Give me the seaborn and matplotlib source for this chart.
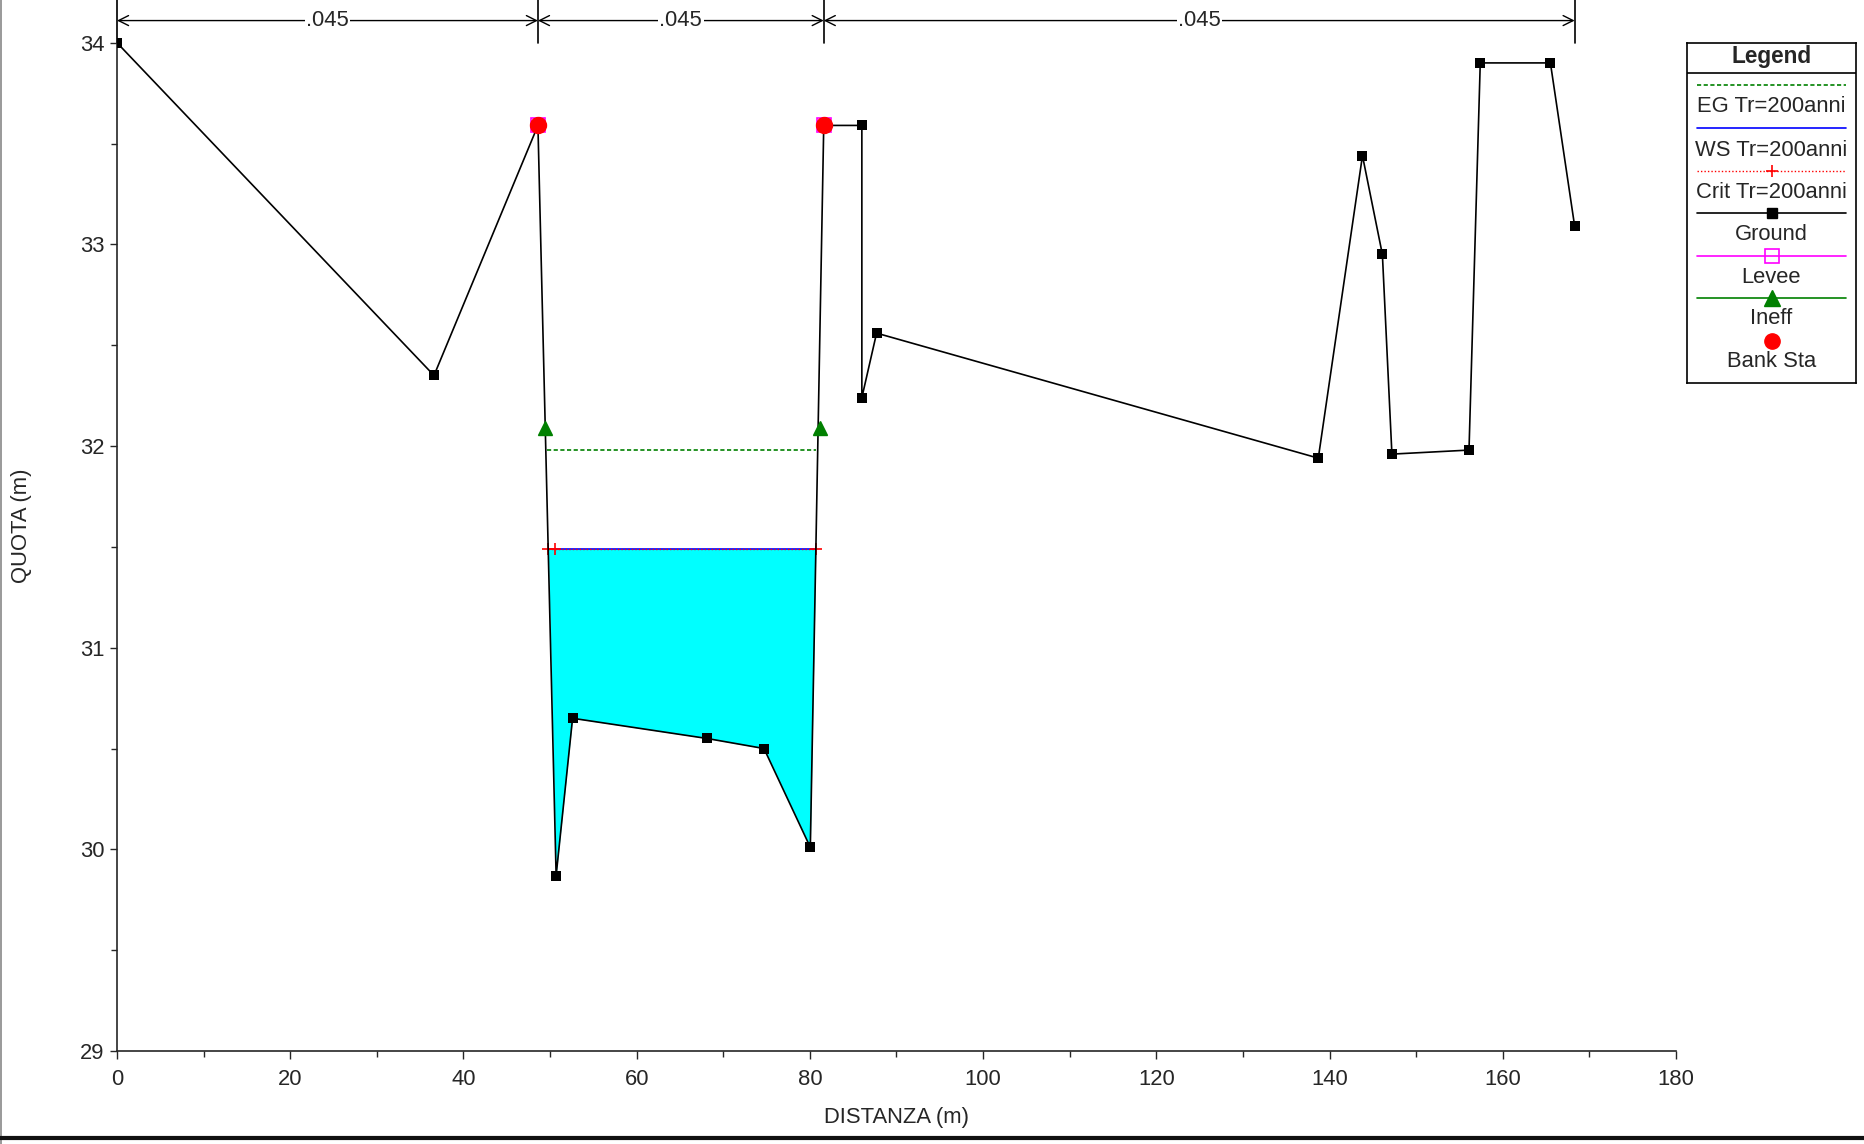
import numpy as np
import matplotlib
matplotlib.use("Agg")
import matplotlib.pyplot as plt
from matplotlib.lines import Line2D
from matplotlib.ticker import MultipleLocator
import seaborn as sns

# ---- dati ----
ground_x = [0.0, 36.6, 48.6, 50.7, 52.6, 68.1, 74.7, 80.05, 81.6, 86.0, 86.0,
            87.7, 138.7, 143.8, 146.1, 147.2, 156.1, 157.4, 165.5, 168.3]
ground_y = [34.00, 32.35, 33.59, 29.87, 30.65, 30.55, 30.50, 30.01, 33.59, 33.59, 32.24,
            32.56, 31.94, 33.44, 32.95, 31.96, 31.98, 33.90, 33.90, 33.09]

bank_x = [48.6, 81.6]
bank_y = [33.59, 33.59]
levee_x = [48.6, 81.6]
levee_y = [33.59, 33.59]
ineff_x = [49.45, 81.15]
ineff_y = [32.09, 32.09]

ws_elev = 31.49
eg_elev = 31.98
eg_x = [49.6, 80.75]
ws_x = [49.8, 80.7]
crit_x = [49.8, 50.55, 80.7]
crit_y = [31.49, 31.49, 31.49]

n_sta = [0.0, 48.6, 81.6, 168.3]
n_val = [".045", ".045", ".045"]

legend_labels = ["EG Tr=200anni", "WS Tr=200anni", "Crit Tr=200anni",
                 "Ground", "Levee", "Ineff", "Bank Sta"]

# ---- stile ----
sns.set_style("ticks")
plt.rcParams["font.family"] = ["Liberation Sans", "DejaVu Sans"]
FS = 15.8
plt.rcParams["font.size"] = FS

W, H = 1865, 1144
fig = plt.figure(figsize=(W / 100, H / 100), dpi=100)
ax = fig.add_axes([117 / W, 1 - 1051 / H, 1559 / W, 1051 / H])

# acqua
ch_x = np.array(ground_x[2:9])
ch_y = np.array(ground_y[2:9])
ax.fill_between(ch_x, ch_y, ws_elev, where=ch_y < ws_elev, interpolate=True,
                color="#00ffff", linewidth=0, zorder=1)

# EG, WS, Crit
ax.plot(eg_x, [eg_elev, eg_elev], color="#008000", ls=(0, (2.5, 1.5)), lw=1.2, zorder=3)
ax.plot(ws_x, [ws_elev, ws_elev], color="blue", lw=1.2, zorder=3)
ax.plot(crit_x, crit_y, color="red", ls=(0, (1, 1.5)), lw=1, marker="+",
        markersize=9, markeredgewidth=1.2, zorder=4)

# terreno
sns.lineplot(x=ground_x, y=ground_y, sort=False, estimator=None, color="black",
             lw=1.2, marker="s", markersize=7, markeredgewidth=0, ax=ax, zorder=5)

# argini, ineff, sponde
ax.plot(levee_x, levee_y, ls="none", marker="s", markersize=10, mfc="none",
        mec="magenta", mew=1.2, zorder=6)
ax.plot(ineff_x, ineff_y, ls="none", marker="^", markersize=10, color="green", zorder=6)
ax.plot(bank_x, bank_y, ls="none", marker="o", markersize=11.5, color="red", zorder=7)

# scabrezza in alto
top = 34.212
y_arrow = 34.11
for s in n_sta:
    ax.plot([s, s], [34.0, top], color="black", lw=1.2, zorder=2, clip_on=False)
for i, lab in enumerate(n_val):
    a, b = n_sta[i], n_sta[i + 1]
    ax.annotate("", xy=(a, y_arrow), xytext=(b, y_arrow),
                arrowprops=dict(arrowstyle="<->", color="black", lw=1,
                                shrinkA=0, shrinkB=0, mutation_scale=18))
    ax.text((a + b) / 2, y_arrow, lab, ha="center", va="center", fontsize=FS,
            bbox=dict(facecolor="white", edgecolor="none", pad=1))

# assi
ax.set_xlim(0, 180)
ax.set_ylim(29, top)
ax.xaxis.set_major_locator(MultipleLocator(20))
ax.xaxis.set_minor_locator(MultipleLocator(10))
ax.yaxis.set_major_locator(MultipleLocator(1))
ax.yaxis.set_minor_locator(MultipleLocator(0.5))
ax.tick_params(which="major", direction="out", length=6, width=1, pad=7, labelsize=FS)
ax.tick_params(which="minor", direction="out", length=4, width=1)
ax.tick_params(axis="y", which="major", length=5, pad=4)
sns.despine(ax=ax)
ax.spines["left"].set_linewidth(1.2)
ax.spines["bottom"].set_linewidth(1.2)
ax.set_xlabel("DISTANZA (m)", fontsize=FS)
ax.set_ylabel("QUOTA (m)", fontsize=FS)
ax.xaxis.set_label_coords(0.5, -0.063)
ax.xaxis.label.set_verticalalignment("center")
ax.yaxis.set_label_coords(-0.061, 0.5)
ax.yaxis.label.set_verticalalignment("center")

# legenda disegnata a mano
lg = fig.add_axes([1687 / W, 1 - 383 / H, 169 / W, 340 / H])
lg.set_xlim(0, 169)
lg.set_ylim(340, 0)
lg.set_xticks([])
lg.set_yticks([])
for sp in lg.spines.values():
    sp.set_linewidth(1.2)
    sp.set_color("black")
lg.text(84.5, 13, "Legend", ha="center", va="center", fontsize=FS + 0.5, fontweight="bold")
lg.plot([0, 169], [29.5, 29.5], color="black", lw=1.2)

x0, x1, xm = 10, 159, 85
styles = [
    dict(color="#008000", ls=(0, (2.5, 1.5)), lw=1.2),
    dict(color="blue", lw=1.2),
    dict(color="red", ls=(0, (1, 1.5)), lw=1),
    dict(color="black", lw=1.2),
    dict(color="magenta", lw=1.2),
    dict(color="green", lw=1.2),
    None,
]
marks = [None, None,
         dict(marker="+", markersize=9, mew=1.2, color="red"),
         dict(marker="s", markersize=7, color="black"),
         dict(marker="s", markersize=10, mfc="none", mec="magenta", mew=1.2),
         dict(marker="^", markersize=11, color="green"),
         dict(marker="o", markersize=11, color="red")]
line_y = [41.5, 85, 128, 170, 213, 255, 298]
text_y = [63, 107, 149, 191.5, 234.5, 275.5, 318.5]
for lab, st, mk, ly, ty in zip(legend_labels, styles, marks, line_y, text_y):
    if st is not None:
        lg.plot([x0, x1], [ly, ly], **st)
    if mk is not None:
        lg.plot([xm], [ly], ls="none", **mk)
    lg.text(84.5, ty, lab, ha="center", va="center", fontsize=FS)

# bordo figura
fig.add_artist(Line2D([0.5 / W, 0.5 / W], [0, 1], color="#888888", lw=1.2))
fig.add_artist(Line2D([0, 1], [1 - 1137.5 / H, 1 - 1137.5 / H], color="#111111", lw=3))

fig.savefig("out.png", dpi=100)
